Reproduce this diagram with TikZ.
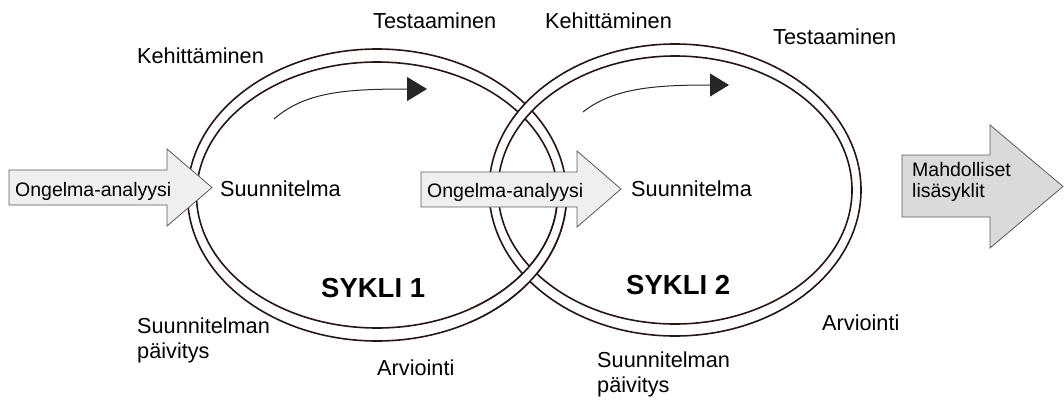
\documentclass[tikz,border=0pt]{standalone}
\usepackage{fontspec}
\setmainfont{Liberation Sans}
\usetikzlibrary{arrows.meta}
\definecolor{ringc}{RGB}{40,22,22}
\definecolor{arrowfill}{RGB}{239,239,239}
\definecolor{arrowfilldark}{RGB}{218,218,218}
\definecolor{arrowline}{RGB}{90,90,90}
\tikzset{
  lbl/.style={anchor=base west, inner sep=0pt, font=\fontsize{21.7}{26}\selectfont},
  arrtxt/.style={anchor=base west, inner sep=0pt, font=\fontsize{19.5}{21}\selectfont, align=left},
  bold/.style={anchor=base west, inner sep=0pt, font=\fontsize{27.5}{32}\selectfont\bfseries},
  ring/.style={draw=ringc, line width=1.6pt},
  bigarrow/.style={draw=arrowline, line width=0.8pt, line join=miter},
  flowarrow/.style={draw=black!85, line width=1pt, -{Triangle[length=20pt,width=24pt]}}
}
\newcommand{\band}[5]{%
  \fill[white, even odd rule] (#1) ellipse [x radius=#2pt, y radius=#3pt] (#1) ellipse [x radius=#4pt, y radius=#5pt];
  \draw[ring] (#1) ellipse [x radius=#2pt, y radius=#3pt];
  \draw[ring] (#1) ellipse [x radius=#4pt, y radius=#5pt];}
\begin{document}
\begin{tikzpicture}[x=1pt,y=-1pt]
\useasboundingbox (0,0) rectangle (1064,400);
\coordinate (c1) at (377,195);
\coordinate (c2) at (675,190);
% rings, interlocked
\band{c1}{189.5}{146}{180.5}{133}
\band{c2}{186}{146}{177}{134}
\begin{scope}
  \clip (470,200) rectangle (600,360);
  \band{c1}{189.5}{146}{180.5}{133}
\end{scope}
% big arrows
\draw[bigarrow, fill=arrowfill] (9,170) -- (167,170) -- (167,149) -- (212,187.5) -- (167,226) -- (167,205) -- (9,205) -- cycle;
\draw[bigarrow, fill=arrowfill] (421,172) -- (577,172) -- (577,151) -- (621,189) -- (577,227) -- (577,207) -- (421,207) -- cycle;
\draw[bigarrow, fill=arrowfilldark] (902,155) -- (990,155) -- (990,125) -- (1063,186.5) -- (990,248) -- (990,217) -- (902,217) -- cycle;
\node[arrtxt] (oa1) at (15,196) {Ongelma-analyysi};
\node[arrtxt] (oa2) at (427,197) {Ongelma-analyysi};
\node[arrtxt] (ml) at (912,197) {Mahdolliset\\lisäsyklit};
% curved flow arrows
\coordinate (f1s) at (274,119);
\coordinate (f1e) at (427,89);
\coordinate (f2s) at (583,112);
\coordinate (f2e) at (729,85);
\draw[flowarrow] (f1s) .. controls (305,92) and (345,89) .. (f1e);
\draw[flowarrow, -{Triangle[length=19pt,width=23pt]}] (f2s) .. controls (613,88) and (655,85) .. (f2e);
% labels
\node[lbl] (k1) at (137,63) {Kehittäminen};
\node[lbl] (t1) at (373,28) {Testaaminen};
\node[lbl] (k2) at (545,28) {Kehittäminen};
\node[lbl] (t2) at (773,44) {Testaaminen};
\node[lbl] (s1) at (220,196) {Suunnitelma};
\node[lbl] (s2) at (631,196) {Suunnitelma};
\node[bold] (sy1) at (321,297) {SYKLI 1};
\node[bold] (sy2) at (626,294) {SYKLI 2};
\node[lbl] (sp1a) at (137,333) {Suunnitelman};
\node[lbl] (sp1b) at (137,358) {päivitys};
\node[lbl] (a1) at (377,375) {Arviointi};
\node[lbl] (sp2a) at (597,367) {Suunnitelman};
\node[lbl] (sp2b) at (597,392) {päivitys};
\node[lbl] (a2) at (822,330) {Arviointi};
\end{tikzpicture}
\end{document}
